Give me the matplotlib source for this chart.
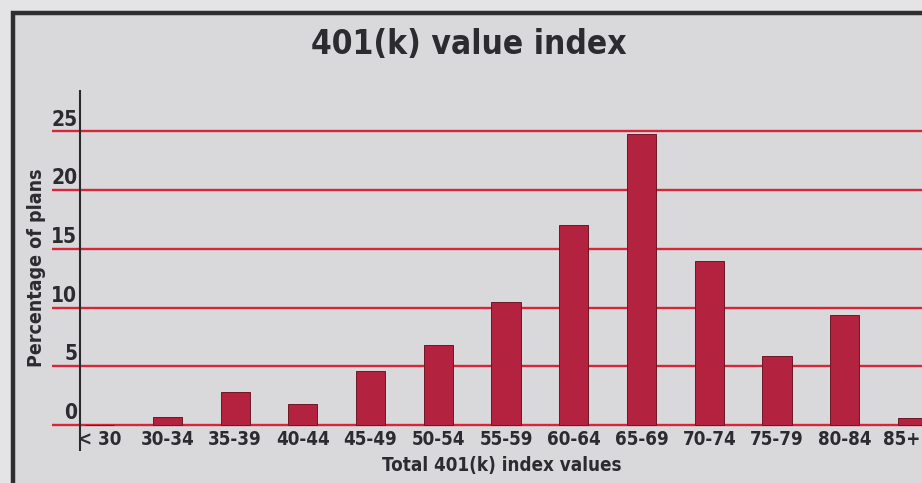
import matplotlib
matplotlib.use("Agg")
import matplotlib.pyplot as plt
from matplotlib.patches import Rectangle

# Data
categories = ["< 30", "30-34", "35-39", "40-44", "45-49", "50-54", "55-59",
              "60-64", "65-69", "70-74", "75-79", "80-84", "85+"]
percent_plans = [0.0, 0.7, 2.8, 1.8, 4.6, 6.8, 10.5, 17.0, 24.8, 14.0, 5.9, 9.4, 0.6]
y_ticks = [0, 5, 10, 15, 20, 25]

title = "401(k) value index"
x_label = "Total 401(k) index values"
y_label = "Percentage of plans"

# Narrow bold sans for all labels
plt.rcParams["font.family"] = ["DejaVu Sans"]
plt.rcParams["font.stretch"] = "condensed"
plt.rcParams["font.weight"] = "bold"

W, H = 922, 483
fig = plt.figure(figsize=(W / 100, H / 100), dpi=100)
fig.patch.set_facecolor("#e4e4e6")

# Framed panel
panel_bg = "#d9d9dc"
frame = Rectangle((13 / W, -0.05), 1.1, (H - 13) / H + 0.05,
                  transform=fig.transFigure, facecolor=panel_bg,
                  edgecolor="#2e2e30", linewidth=3.2, zorder=-5)
fig.patches.append(frame)

ax_left, ax_right, ax_top, ax_bottom = 52, 922, 90, 451
ax = fig.add_axes([ax_left / W, (H - ax_bottom) / H,
                   (ax_right - ax_left) / W, (ax_bottom - ax_top) / H])
ax.set_zorder(2)
ax.patch.set_alpha(0)

x0_px, step_px = 99.6, 67.74
px_per_unit = 11.75
y0_px = 425
ax.set_xlim((ax_left - x0_px) / step_px, (ax_right - x0_px) / step_px)
ax.set_ylim((y0_px - ax_bottom) / px_per_unit, (y0_px - ax_top) / px_per_unit)

for s in ax.spines.values():
    s.set_visible(False)
ax.set_xticks([])
ax.set_yticks([])

# Horizontal reference lines
for v in y_ticks:
    ax.axhline(v, color="#d6263a", linewidth=1.7, zorder=1)

# Vertical axis line
axis_x = (80 - x0_px) / step_px
ax.axvline(axis_x, color="#2a2a2c", linewidth=1.5, zorder=3)

positions = list(range(len(categories)))
ax.bar(positions, percent_plans, width=0.43, color="#b3233f",
       edgecolor="#6e1626", linewidth=0.7, zorder=2)

text_color = "#2b2b30"
# Y tick labels sit just above each line
for v in y_ticks:
    ax.text(axis_x - 0.04, v + 1.0, str(v), ha="right", va="center",
            fontsize=15, fontweight="bold", color=text_color)

# Category labels (the last one is kept inside the panel edge)
for p, lab in zip(positions, categories):
    if p == positions[-1]:
        ax.text(0.998, -1.25, lab, ha="right", va="center", fontsize=13.5,
                fontweight="bold", color=text_color,
                transform=ax.get_yaxis_transform())
    else:
        ax.text(p, -1.25, lab, ha="center", va="center", fontsize=13.5,
                fontweight="bold", color=text_color, clip_on=False)

fig.text(469 / W, 1 - 45 / H, title, ha="center", va="center",
         fontsize=24, fontweight="bold", color=text_color)
fig.text(502 / W, 1 - 465 / H, x_label, ha="center", va="center",
         fontsize=13.5, fontweight="bold", color=text_color)
fig.text(37 / W, 1 - 268 / H, y_label, ha="center", va="center", rotation=90,
         fontsize=14, fontweight="bold", color=text_color)

fig.savefig("out.png", dpi=100, facecolor=fig.get_facecolor())
